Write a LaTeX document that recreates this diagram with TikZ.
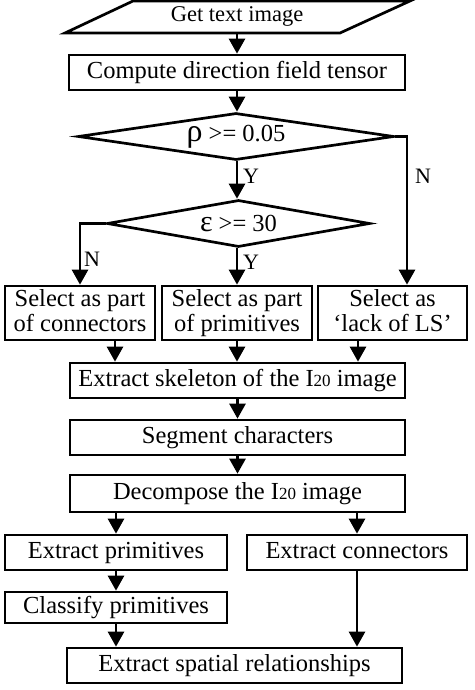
\documentclass[tikz,border=0pt]{standalone}
\usepackage{fontspec}
\setmainfont{Liberation Serif}
\usetikzlibrary{shapes.geometric,arrows.meta,calc}
\newcommand{\smallsub}[1]{{\fontsize{17}{17}\selectfont #1}}
\begin{document}
\begin{tikzpicture}[x=1pt,y=-1pt,
  line width=2.7pt,
  box/.style={draw, rectangle, inner sep=0pt, font=\fontsize{24.5}{25}\selectfont, align=center, text height=17pt, text depth=5.5pt},
  box2/.style={box, text height=42pt},
  dia/.style={draw, diamond, inner sep=0pt, font=\fontsize{24.5}{27}\selectfont},
  arr/.style={-{Triangle[width=16pt,length=15pt]}},
  lab/.style={font=\fontsize{22}{22}\selectfont, inner sep=0pt}]
\useasboundingbox (0,0) rectangle (474,690);
% parallelogram
\node[font=\fontsize{22.5}{22}\selectfont, inner sep=0pt, minimum width=200pt, text height=16pt, text depth=5pt] (get) at (237,16) {Get text image};
\draw[line join=miter] (133,1) -- (410,1) -- (340,33) -- (65,33) -- cycle;
\node[box, minimum width=336pt, minimum height=35pt] (comp) at (237,72.5) {Compute direction field tensor};
\node[dia, minimum width=316pt, minimum height=47pt, shape aspect=6.7] (d1) at (236,136.5) {{\fontsize{32}{30}\selectfont ρ} >= 0.05};
\node[dia, minimum width=263pt, minimum height=47pt, shape aspect=5.6] (d2) at (238.5,223.5) {{\fontsize{30}{28}\selectfont ε} >= 30};
\node[box2, minimum width=150pt, minimum height=54pt] (b1) at (80,313) {Select as part\\of connectors};
\node[box2, minimum width=150pt, minimum height=54pt] (b2) at (237,313) {Select as part\\of primitives};
\node[box2, minimum width=149pt, minimum height=54pt] (b3) at (392.5,313) {Select as\\‘lack of LS’};
\node[box, minimum width=335pt, minimum height=35pt] (skel) at (237.5,380.5) {Extract skeleton of the I\smallsub{20} image};
\node[box, minimum width=335pt, minimum height=35pt] (seg) at (237.5,437.5) {Segment characters};
\node[box, minimum width=335pt, minimum height=37pt] (dec) at (237.5,493.5) {Decompose the I\smallsub{20} image};
\node[box, minimum width=222pt, minimum height=35pt] (ep) at (116,552.5) {Extract primitives};
\node[box, minimum width=220pt, minimum height=35pt] (ec) at (357,552.5) {Extract connectors};
\node[box, minimum width=222pt, minimum height=31pt] (cp) at (116,607.5) {Classify primitives};
\node[box, minimum width=335pt, minimum height=35pt] (sp) at (234.5,665.5) {Extract spatial relationships};
% connectors
\draw[arr] (get.south |- 0,33) -- (comp.north);
\draw[arr] (comp.south) -- (comp.south |- d1.north);
\draw[arr] (comp.south |- d1.south) -- (comp.south |- d2.north);
\draw[arr] (d1.east) -| ([xshift=14.5pt]b3.north);
\draw[arr] (d2.west) -| (b1.north);
\draw[arr] (b2.north |- d2.south) -- (b2.north);
\draw[arr] ([xshift=35pt]b1.south) -- ([xshift=35pt]b1.south |- skel.north);
\draw[arr] (b2.south) -- (b2.south |- skel.north);
\draw[arr] ([xshift=-34.5pt]b3.south) -- ([xshift=-34.5pt]b3.south |- skel.north);
\draw[arr] (skel.south) -- (seg.north);
\draw[arr] (seg.south) -- (dec.north);
\draw[arr] (ep.north |- dec.south) -- (ep.north);
\draw[arr] (ec.north |- dec.south) -- (ec.north);
\draw[arr] (ep.south) -- (cp.north);
\draw[arr] (cp.south) -- (cp.south |- sp.north);
\draw[arr] (ec.south) -- (ec.south |- sp.north);
% labels
\node[lab] (y1) at (251,176) {Y};
\node[lab] (n1) at (423,176) {N};
\node[lab] (n2) at (92,259) {N};
\node[lab] (y2) at (251,262) {Y};
\end{tikzpicture}
\end{document}
